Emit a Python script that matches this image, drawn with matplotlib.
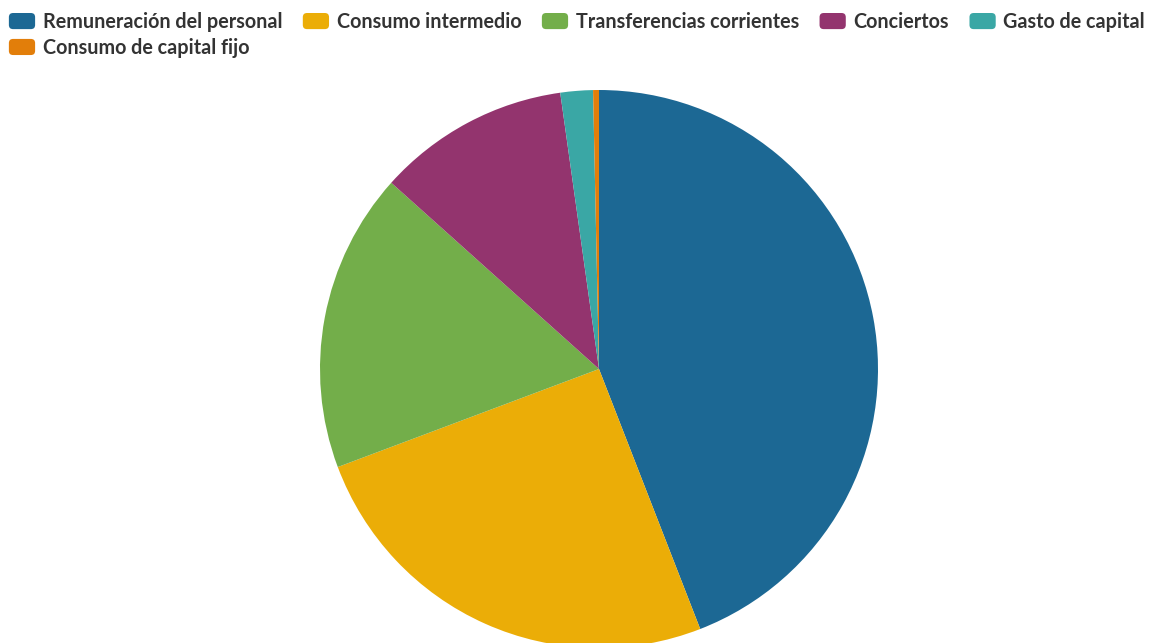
import matplotlib.pyplot as plt
from matplotlib.patches import Patch, FancyBboxPatch
from matplotlib.legend_handler import HandlerPatch

# Distribución del gasto (%)
categorias = ["Remuneración del personal", "Consumo intermedio", "Transferencias corrientes",
              "Conciertos", "Gasto de capital", "Consumo de capital fijo"]
valores = [44.1, 25.2, 17.35, 11.15, 1.88, 0.34]
colores = ["#1c6894", "#ebad07", "#73ae4a", "#93346e", "#3aa7a5", "#e27e0a"]

plt.rcParams['font.family'] = ['Lato', 'DejaVu Sans']

fig = plt.figure(figsize=(11.56, 6.43), dpi=100)

# pie: centro (599, 369) px, radio 279 px
cx, cy, r = 599, 369, 279
W, H = 1156, 643
ax = fig.add_axes([(cx - r) / W, (H - cy - r) / H, 2 * r / W, 2 * r / H])
ax.pie(valores, colors=colores, startangle=90, counterclock=False,
       wedgeprops=dict(linewidth=0))
ax.set_xlim(-1, 1)
ax.set_ylim(-1, 1)
ax.axis("off")


def caja_redonda(legend, orig_handle, xdescent, ydescent, width, height, fontsize):
    return FancyBboxPatch((-xdescent, -ydescent), width, height,
                          boxstyle="round,pad=0,rounding_size=3")


handles = [Patch(facecolor=c, label=l) for c, l in zip(colores, categorias)]
# el legend de matplotlib llena por columnas: reordenar para que la fila 2 tenga el último
orden = [0, 5, 1, 2, 3, 4]
leg = fig.legend([handles[i] for i in orden], [categorias[i] for i in orden],
                 loc="upper left", bbox_to_anchor=(0.0, 1.0 - 3 / H), ncol=5, frameon=False,
                 prop=dict(family=['Lato', 'DejaVu Sans'], weight='bold', size=14.2),
                 handlelength=1.33, handleheight=0.88, handletextpad=0.38,
                 columnspacing=1.05, labelspacing=0.3, borderaxespad=0.25,
                 borderpad=0.2,
                 handler_map={Patch: HandlerPatch(patch_func=caja_redonda)})
for t in leg.get_texts():
    t.set_color("#333333")

fig.savefig("out.png", dpi=100)
